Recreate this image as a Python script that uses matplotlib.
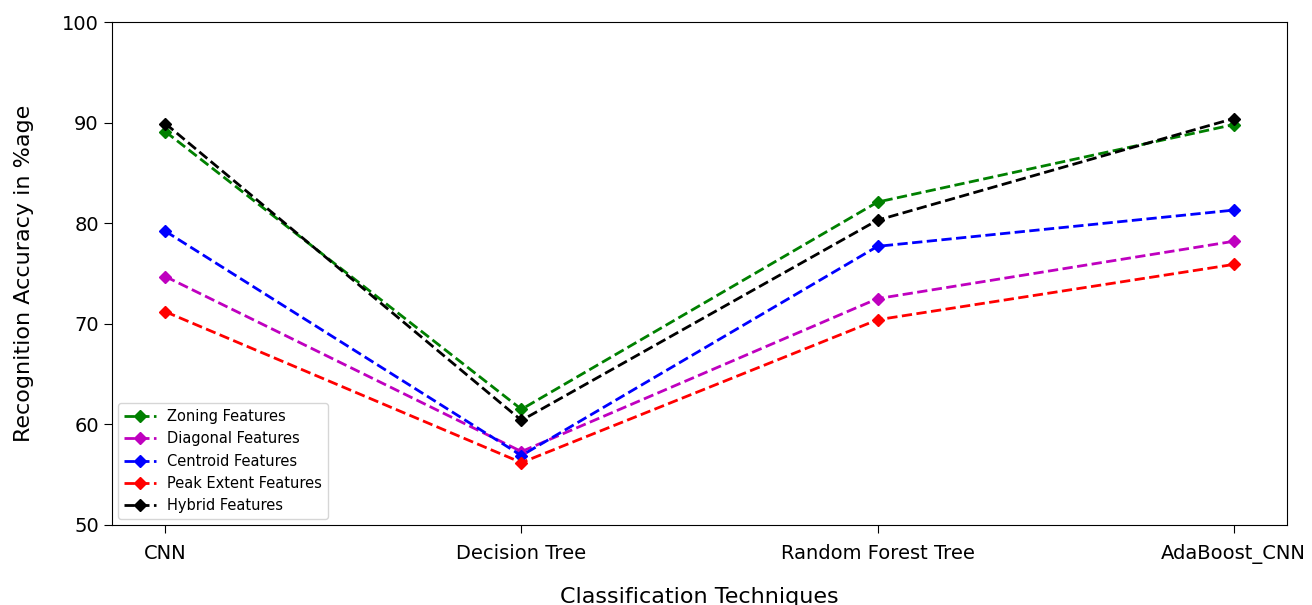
import matplotlib
matplotlib.use("Agg")
import matplotlib.pyplot as plt

techniques = ["CNN", "Decision Tree", "Random Forest Tree", "AdaBoost_CNN"]
zoning = [89.1, 61.5, 82.1, 89.8]
diagonal = [74.7, 57.3, 72.5, 78.2]
centroid = [79.2, 56.9, 77.7, 81.3]
peak_extent = [71.2, 56.2, 70.4, 75.9]
hybrid = [89.9, 60.4, 80.3, 90.4]

series = [
    ("Zoning Features", zoning, "g"),
    ("Diagonal Features", diagonal, "m"),
    ("Centroid Features", centroid, "b"),
    ("Peak Extent Features", peak_extent, "r"),
    ("Hybrid Features", hybrid, "k"),
]

fig = plt.figure(figsize=(13.12, 6.05), dpi=100)
ax = fig.add_axes([112/1312, 1-525/605, 1175/1312, 503/605])

x = list(range(len(techniques)))
for label, vals, c in series:
    ax.plot(x, vals, linestyle="--", marker="D", color=c, label=label,
            linewidth=2, markersize=6)

ax.set_ylim(50, 100)
ax.set_yticks([50, 60, 70, 80, 90, 100])
ax.set_xticks(x)
ax.set_xticklabels(techniques)
ax.tick_params(axis="both", labelsize=14, length=6)
ax.tick_params(axis="x", pad=8)
ax.set_ylabel("Recognition Accuracy in %age", fontsize=16, labelpad=20)
ax.set_xlabel("Classification Techniques", fontsize=16, labelpad=16)
ax.legend(loc="lower left", fontsize=10.5, handlelength=2.2, borderaxespad=0.4)

fig.savefig("out.png", dpi=100)
